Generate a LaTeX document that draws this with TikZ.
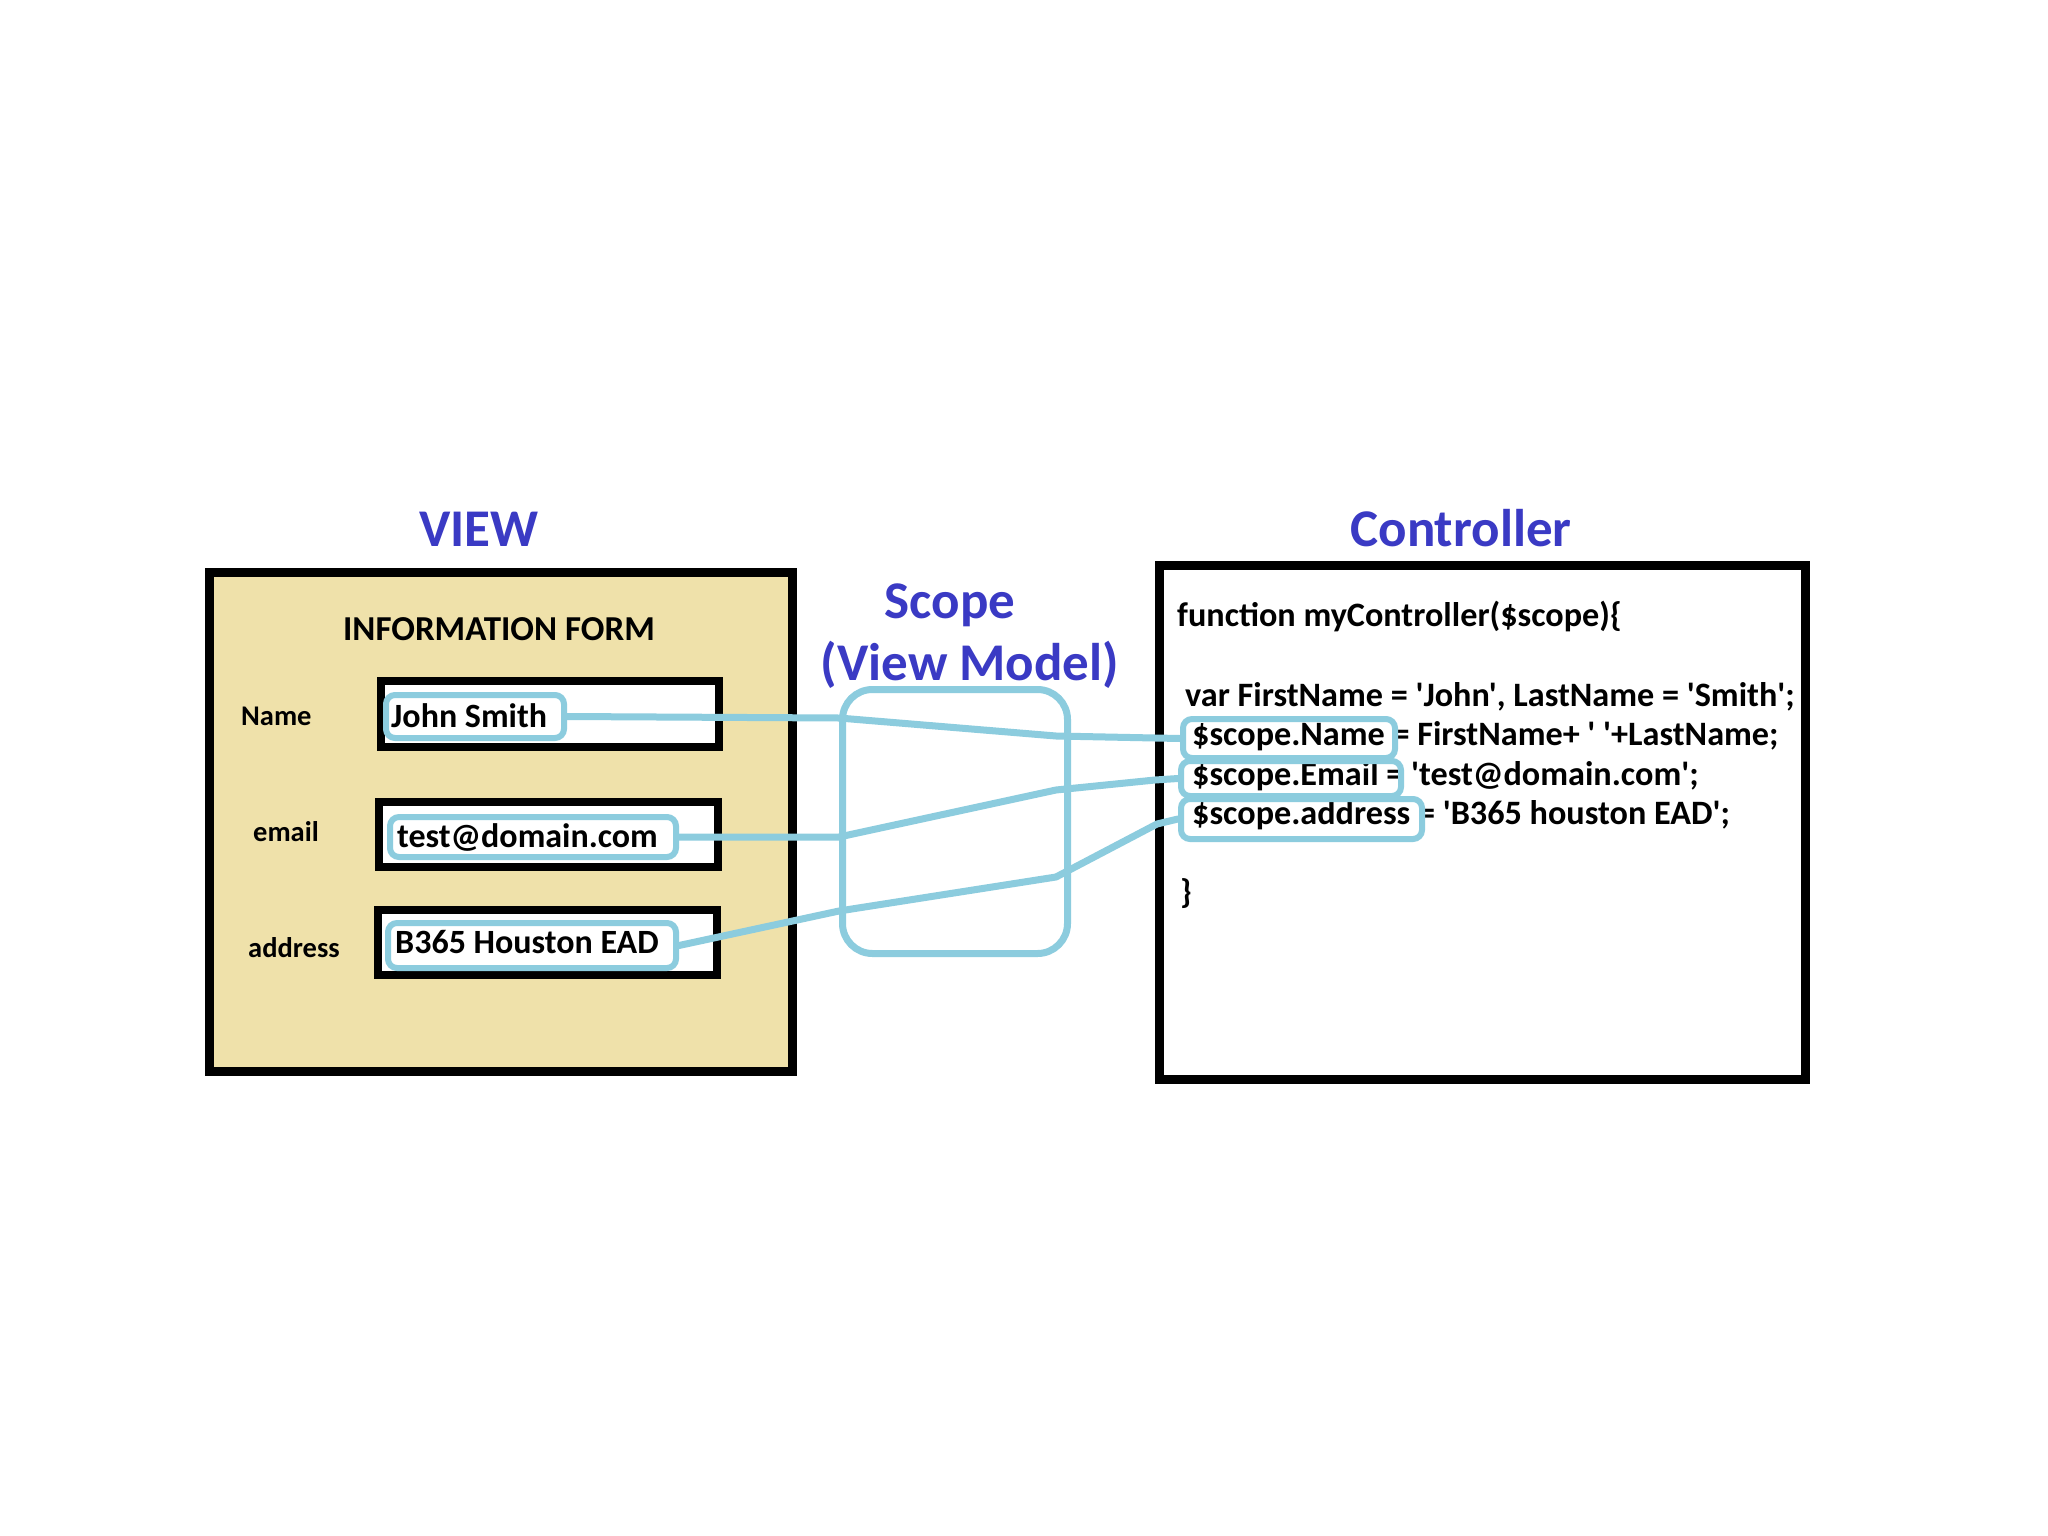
\documentclass[tikz,border=0pt]{standalone}
\usepackage{fontspec}
\setmainfont{Carlito}[Ligatures=TeXOff]
\definecolor{beige}{RGB}{239,225,170}
\definecolor{ttl}{RGB}{58,58,196}
\definecolor{lb}{RGB}{140,204,222}
\begin{document}
\begin{tikzpicture}[x=1pt,y=-1pt,
  frame/.style={draw=black, line width=9pt, inner sep=0pt, anchor=north west},
  field/.style={draw=black, fill=white, line width=8pt, inner sep=0pt, anchor=north west},
  hl/.style={draw=lb, line width=6pt, rounded corners=9pt, inner sep=0pt, anchor=north west},
  wire/.style={draw=lb, line width=7pt, line join=round, line cap=round},
  title/.style={font=\fontsize{53}{62}\selectfont\bfseries, text=ttl, inner sep=0pt},
  code/.style={font=\fontsize{34.2}{40}\selectfont\bfseries, anchor=base west, inner sep=0pt},
  lbl/.style={font=\fontsize{28.5}{32}\selectfont\bfseries, anchor=base west, inner sep=0pt},
  ftxt/.style={font=\fontsize{34}{40}\selectfont\bfseries, anchor=base west, inner sep=0pt}]
\useasboundingbox (0,0) rectangle (2048,1536);
\fill[white] (0,0) rectangle (2048,1536);

% View
\node[frame, fill=beige, minimum width=583pt, minimum height=499pt] (view) at (205,568) {};
\node[title] (viewt) at (479,529) {VIEW};
\node[font=\fontsize{35}{40}\selectfont\bfseries, inner sep=0pt] (form) at (499,629) {INFORMATION FORM};
\node[lbl] (lname) at (241,725) {Name};
\node[lbl] (lemail) at (253,841) {email};
\node[lbl] (laddr) at (248,957) {address};
\node[field, minimum width=338pt, minimum height=66pt] (fname) at (377,677) {};
\node[field, minimum width=339pt, minimum height=65pt] (femail) at (375,798) {};
\node[field, minimum width=339pt, minimum height=65pt] (faddr) at (374,906) {};
\node[hl, minimum width=178pt, minimum height=43pt] (hjohn) at (383,692) {};
\node[hl, minimum width=286pt, minimum height=40pt] (hemail) at (387,814) {};
\node[hl, minimum width=288pt, minimum height=45pt] (haddr) at (385,920) {};
\node[ftxt] (tjohn) at (391,727) {John Smith};
\node[ftxt] (temail) at (397,847) {test@domain.com};
\node[ftxt] (taddr) at (395,953) {B365 Houston EAD};

% Controller
\node[frame, fill=white, minimum width=646pt, minimum height=514pt] (ctrl) at (1155,561) {};
\node[title] (ctrlt) at (1461,528) {Controller};
\node[code] (c1) at (1177,626) {function myController(\$scope)\{};
\node[code] (c2) at (1185,706) {var FirstName = 'John', LastName = 'Smith';};
\node[code] (c3) at (1192,745) {\$scope.Name = FirstName+ ' '+LastName;};
\node[code] (c4) at (1192,785) {\$scope.Email = 'test@domain.com';};
\node[code] (c5) at (1192,824) {\$scope.address = 'B365 houston EAD';};
\node[code] (c6) at (1180,903) {\}};
\node[hl, minimum width=212pt, minimum height=39pt] (hname) at (1180,716) {};
\node[hl, minimum width=220pt, minimum height=35pt] (hmail) at (1178,758) {};
\node[hl, minimum width=241pt, minimum height=40pt] (haddc) at (1178,796) {};

% Scope
\node[title] (scopet) at (950,605) {Scope};
\node[title] (vmt) at (970,665) {(View Model)};
\node[draw=lb, line width=7pt, rounded corners=30pt, minimum width=225pt, minimum height=264pt, inner sep=0pt, anchor=north west] (scope) at (839,686) {};

% wires
\coordinate (a1) at (839,718);
\coordinate (a2) at (1056,736);
\coordinate (b1) at (839,837);
\coordinate (b2) at (1056,790);
\coordinate (b3) at (1155,780);
\coordinate (d1) at (839,911);
\coordinate (d2) at (1056,877);
\coordinate (d3) at (1157,824);
\draw[wire] (hjohn.east) -- (a1) -- (a2) -- (hname.west);
\draw[wire] (hemail.east) -- (b1) -- (b2) -- (b3) -- (hmail.west);
\draw[wire] (haddr.east) -- (d1) -- (d2) -- (d3) -- (haddc.west);
\end{tikzpicture}
\end{document}
